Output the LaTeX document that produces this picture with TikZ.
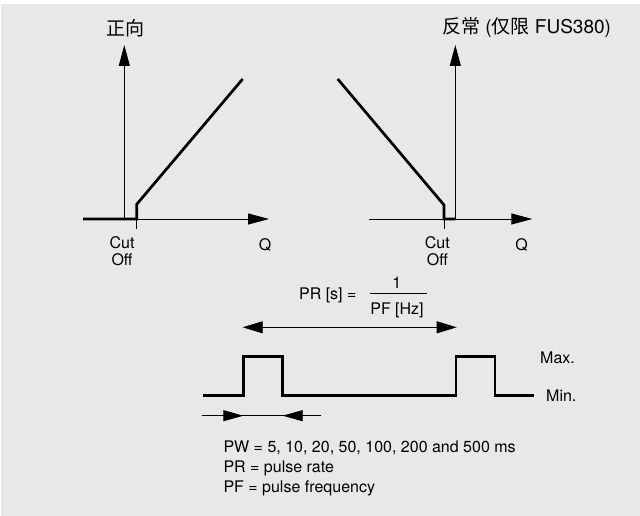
\documentclass[tikz,border=0pt]{standalone}
\usepackage{fontspec}
\setmainfont{TeX Gyre Heros}
\newfontfamily\cjk{Noto Sans CJK SC}
\usetikzlibrary{arrows.meta}
\definecolor{panel}{HTML}{E7E8E7}
\begin{document}
\begin{tikzpicture}[
        x=1pt, y=-1pt,
        axis/.style = {line width=0.9pt, -{Triangle[length=21pt,width=11pt]}},
        thin/.style = {line width=0.9pt},
        curve/.style = {line width=2.7pt},
        lbl/.style = {inner sep=0pt, font=\fontsize{16}{19}\selectfont},
        ttl/.style = {inner sep=0pt, font=\fontsize{19}{23}\selectfont},
        head/.style = {-{Triangle[length=20pt,width=11pt]}}
    ]
            \useasboundingbox (0,0) rectangle (640,516);
            \fill[white] (0,0) rectangle (640,516);
            \fill[panel] (1,4) rectangle (640,516);
            \draw[axis] (124.3,219) -- (124.3,45);
            \draw[axis] (83,219) -- (269,219);
            \draw[thin] (136.7,219) -- (136.7,229);
            \draw[curve] (83,219) -- (136.7,219) -- (136.7,204.3) -- (242.7,79);
            \node[ttl] (fwd) at (125.7,28) {\cjk 正向};
            \node[lbl] (cutL) at (122,243) {Cut};
            \node[lbl] (offL) at (122,260) {Off};
            \node[lbl] (qL) at (265,245) {Q};
            \draw[axis] (455.3,219) -- (455.3,45);
            \draw[axis] (369.3,219) -- (532.3,219);
            \draw[thin] (444,219) -- (444,229);
            \draw[curve] (337.7,79) -- (444,205) -- (444,219) -- (455.3,219);
            \node[ttl] (rev) at (526.5,28) {{\cjk 反常} ({\cjk 仅限} FUS380)};
            \node[lbl] (cutR) at (437.3,243) {Cut};
            \node[lbl] (offR) at (437.3,260) {Off};
            \node[lbl] (qR) at (521.7,245) {Q};
            \node[lbl] (prs) at (327.8,295) {PR [s] =};
            \node[lbl] (one) at (396.7,282.7) {1};
            \node[lbl] (pfhz) at (397,310.7) {PF [Hz]};
            \draw[thin] (370,293.3) -- (427.3,293.3);
            \draw[thin, {Triangle[length=20pt,width=12pt]}-{Triangle[length=20pt,width=12pt]}] (242.7,327.3) -- (456.7,327.3);
            \draw[curve] (203.3,395.7) -- (243.3,395.7) -- (243.3,356.7) -- (282.7,356.7) -- (282.7,395.7)
                -- (456,395.7) -- (456,356.7) -- (495,356.7) -- (495,395.7) -- (534.3,395.7);
            \node[lbl, anchor=west] (max) at (540,357.3) {Max.};
            \node[lbl, anchor=west] (min) at (546,395.7) {Min.};
            \draw[thin] (201.7,415.7) -- (321,415.7);
            \draw[thin, head] (201.7,415.7) -- (243.3,415.7);
            \draw[thin, head] (321,415.7) -- (282.7,415.7);
            \node[lbl, anchor=base west] (pw) at (223.3,452) {PW = 5, 10, 20, 50, 100, 200 and 500 ms};
            \node[lbl, anchor=base west] (pr) at (223.3,472) {PR = pulse rate};
            \node[lbl, anchor=base west] (pf) at (223.3,492.5) {PF = pulse frequency};
        \end{tikzpicture}
\end{document}
